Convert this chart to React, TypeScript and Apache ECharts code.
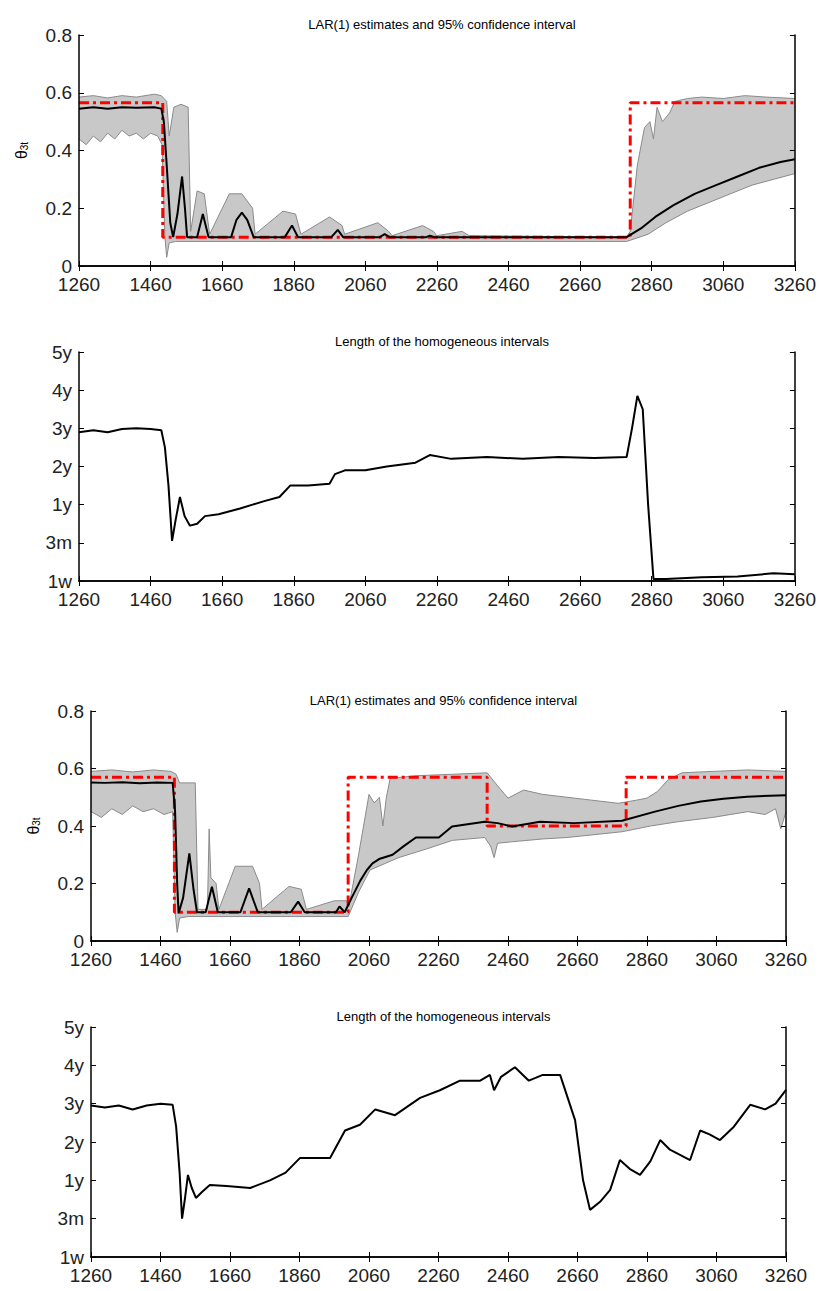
import React, { useEffect, useRef } from "react";
import * as echarts from "echarts";

const durationLabels = ["1w", "3m", "1y", "2y", "3y", "4y", "5y"];

// top pair: single break-free scenario
const estimate1 = [[1260,0.545],[1300,0.55],[1340,0.545],[1380,0.55],[1420,0.548],[1470,0.55],[1490,0.545],[1497,0.5],[1505,0.35],[1515,0.15],[1523,0.1],[1535,0.18],[1548,0.31],[1556,0.2],[1562,0.1],[1590,0.1],[1606,0.18],[1622,0.1],[1685,0.1],[1700,0.16],[1715,0.185],[1730,0.16],[1748,0.1],[1835,0.1],[1855,0.14],[1872,0.1],[1965,0.1],[1983,0.125],[1998,0.1],[2100,0.1],[2114,0.11],[2128,0.1],[2230,0.1],[2240,0.105],[2252,0.1],[2790,0.1],[2830,0.13],[2870,0.17],[2920,0.21],[2980,0.25],[3040,0.28],[3100,0.31],[3160,0.34],[3220,0.36],[3260,0.37]];
const upper1 = [[1260,0.585],[1300,0.59],[1340,0.582],[1380,0.59],[1420,0.585],[1470,0.595],[1490,0.59],[1505,0.57],[1512,0.45],[1525,0.55],[1545,0.56],[1565,0.55],[1572,0.12],[1590,0.26],[1610,0.25],[1625,0.11],[1680,0.25],[1715,0.25],[1745,0.2],[1752,0.11],[1830,0.19],[1865,0.18],[1880,0.11],[1960,0.17],[1995,0.14],[2002,0.11],[2095,0.15],[2125,0.12],[2135,0.105],[2220,0.14],[2250,0.12],[2260,0.105],[2330,0.12],[2350,0.105],[2790,0.1],[2800,0.12],[2820,0.35],[2840,0.48],[2855,0.5],[2865,0.44],[2875,0.55],[2890,0.5],[2910,0.53],[2925,0.57],[2960,0.58],[3000,0.585],[3060,0.58],[3120,0.59],[3180,0.585],[3260,0.58]];
const lower1 = [[1260,0.44],[1280,0.42],[1300,0.45],[1320,0.43],[1340,0.46],[1360,0.44],[1380,0.47],[1400,0.45],[1420,0.46],[1440,0.44],[1460,0.46],[1480,0.45],[1492,0.42],[1500,0.1],[1505,0.03],[1512,0.08],[1530,0.085],[2790,0.085],[2850,0.11],[2900,0.15],[2960,0.19],[3020,0.22],[3080,0.25],[3140,0.28],[3200,0.3],[3260,0.32]];
const truth1 = [[1260,0.565],[1494,0.565],[1494,0.1],[2800,0.1],[2800,0.565],[3260,0.565]];
const length1 = [[1260,3.9],[1300,3.95],[1340,3.9],[1380,3.98],[1420,4.0],[1460,3.98],[1490,3.95],[1500,3.5],[1510,2.5],[1520,1.05],[1530,1.6],[1542,2.2],[1555,1.7],[1570,1.45],[1590,1.5],[1612,1.7],[1650,1.75],[1710,1.9],[1745,2.0],[1780,2.1],[1820,2.2],[1850,2.5],[1900,2.5],[1960,2.55],[1975,2.8],[2003,2.9],[2060,2.9],[2120,3.0],[2200,3.1],[2240,3.3],[2300,3.2],[2400,3.25],[2500,3.2],[2600,3.25],[2700,3.22],[2790,3.25],[2805,4.0],[2820,4.85],[2835,4.5],[2850,2.0],[2865,0.05],[2900,0.05],[3000,0.1],[3100,0.12],[3200,0.2],[3260,0.18]];

// bottom pair: several breaks
const estimate2 = [[1260,0.551],[1300,0.55],[1350,0.552],[1400,0.549],[1450,0.551],[1495,0.55],[1502,0.45],[1508,0.2],[1512,0.096],[1525,0.15],[1543,0.305],[1555,0.18],[1565,0.1],[1590,0.1],[1608,0.189],[1625,0.1],[1690,0.1],[1715,0.183],[1740,0.1],[1835,0.1],[1856,0.137],[1875,0.1],[1965,0.1],[1975,0.12],[1990,0.1],[2010,0.15],[2035,0.21],[2054,0.247],[2070,0.27],[2089,0.285],[2128,0.3],[2160,0.33],[2195,0.36],[2261,0.36],[2299,0.398],[2393,0.415],[2430,0.41],[2472,0.398],[2552,0.415],[2650,0.41],[2788,0.418],[2883,0.45],[2950,0.47],[3015,0.485],[3080,0.495],[3148,0.502],[3260,0.507]];
const upper2 = [[1260,0.59],[1320,0.595],[1380,0.588],[1440,0.595],[1490,0.59],[1505,0.58],[1515,0.55],[1560,0.55],[1568,0.11],[1595,0.11],[1600,0.39],[1605,0.22],[1620,0.2],[1628,0.11],[1675,0.26],[1725,0.26],[1745,0.2],[1752,0.11],[1830,0.19],[1865,0.18],[1880,0.11],[1960,0.14],[1995,0.14],[2002,0.12],[2030,0.3],[2060,0.51],[2075,0.48],[2090,0.5],[2100,0.4],[2110,0.5],[2121,0.566],[2200,0.575],[2300,0.58],[2400,0.585],[2430,0.54],[2460,0.497],[2505,0.525],[2560,0.51],[2630,0.5],[2700,0.49],[2777,0.479],[2830,0.49],[2860,0.497],[2890,0.52],[2920,0.56],[2960,0.585],[3050,0.59],[3150,0.595],[3260,0.59]];
const lower2 = [[1260,0.45],[1290,0.43],[1320,0.46],[1350,0.44],[1380,0.47],[1410,0.45],[1440,0.46],[1470,0.44],[1495,0.45],[1502,0.1],[1508,0.03],[1515,0.08],[1540,0.085],[2000,0.085],[2030,0.17],[2063,0.247],[2145,0.29],[2225,0.32],[2300,0.35],[2393,0.36],[2410,0.33],[2420,0.29],[2430,0.34],[2470,0.345],[2560,0.355],[2630,0.36],[2788,0.38],[2870,0.4],[2950,0.415],[3050,0.43],[3150,0.45],[3200,0.44],[3230,0.46],[3245,0.39],[3260,0.45]];
const truth2 = [[1260,0.57],[1500,0.57],[1500,0.1],[2000,0.1],[2000,0.57],[2400,0.57],[2400,0.4],[2800,0.4],[2800,0.57],[3260,0.57]];
const length2 = [[1260,3.95],[1300,3.9],[1340,3.95],[1380,3.85],[1420,3.95],[1460,4.0],[1495,3.97],[1505,3.4],[1515,2.2],[1522,1.0],[1530,1.5],[1539,2.14],[1550,1.8],[1562,1.54],[1580,1.7],[1602,1.88],[1650,1.85],[1718,1.8],[1775,2.0],[1820,2.2],[1861,2.58],[1948,2.58],[1991,3.3],[2034,3.45],[2078,3.85],[2135,3.7],[2207,4.15],[2264,4.35],[2322,4.6],[2380,4.6],[2408,4.75],[2420,4.35],[2440,4.7],[2480,4.95],[2520,4.6],[2560,4.75],[2610,4.75],[2653,3.57],[2676,2.0],[2696,1.23],[2725,1.44],[2754,1.75],[2782,2.53],[2810,2.3],[2840,2.14],[2870,2.5],[2898,3.05],[2926,2.8],[2984,2.53],[3013,3.3],[3040,3.2],[3070,3.05],[3110,3.4],[3157,3.97],[3200,3.85],[3230,4.0],[3260,4.36]];

const titles = ["LAR(1) estimates and 95% confidence interval", "Length of the homogeneous intervals"];
const grids = [
  { left: 79, top: 35, width: 716, height: 231 },
  { left: 79, top: 352, width: 716, height: 229 },
  { left: 91, top: 711, width: 695, height: 230 },
  { left: 91, top: 1027, width: 695, height: 230 },
];

const font = "Liberation Sans";

const App: React.FC = () => {
  const chartRef = useRef<HTMLDivElement>(null);

  useEffect(() => {
    if (!chartRef.current) return;
    document.body.style.margin = "0";
    const chart = echarts.init(chartRef.current, undefined, { renderer: "svg" });

    const xAxes: any[] = [];
    const yAxes: any[] = [];
    grids.forEach((g, i) => {
      const isTheta = i % 2 === 0;
      const base = {
        gridIndex: i,
        type: "value",
        z: 10,
        axisLine: { show: true, lineStyle: { color: "#000", width: 1.5 } },
        axisTick: { show: true, inside: true, length: 5, lineStyle: { color: "#000" } },
        splitLine: { show: false },
      };
      xAxes.push({
        ...base, position: "bottom", min: 1260, max: 3260, interval: 200,
        axisLabel: { fontFamily: font, fontSize: 19, color: "#222", margin: 9, formatter: (v: number) => String(v) },
      });
      xAxes.push({ ...base, position: "top", min: 1260, max: 3260, interval: 200, axisLabel: { show: false } });
      const yRange = isTheta
        ? { min: 0, max: 0.8, interval: 0.2 }
        : { min: 0, max: 6, interval: 1 };
      yAxes.push({
        ...base, ...yRange, position: "left",
        axisLabel: {
          fontFamily: font, fontSize: 19, color: "#222", margin: 7,
          formatter: isTheta ? (v: number) => (v === 0 ? "0" : v.toFixed(1)) : (v: number) => durationLabels[Math.round(v)],
        },
        name: isTheta ? "{t|θ}{s|3t}" : "",
        nameLocation: "middle",
        nameGap: 50,
        nameRotate: 90,
        nameTextStyle: {
          rich: {
            t: { fontFamily: font, fontSize: 16, color: "#000" },
            s: { fontFamily: font, fontSize: 10, color: "#000", verticalAlign: "bottom", padding: [6, 0, 0, 0] },
          },
        },
      });
      yAxes.push({ ...base, ...yRange, position: "right", axisLabel: { show: false } });
    });

    const series: any[] = [];
    const addTheta = (i: number, upper: number[][], lower: number[][], est: number[][], truth: number[][]) => {
      const ax = { xAxisIndex: 2 * i, yAxisIndex: 2 * i, type: "line", showSymbol: false, symbol: "none" };
      series.push({ ...ax, data: upper, lineStyle: { color: "#8a8a8a", width: 1 }, areaStyle: { color: "#c8c8c8", opacity: 1, origin: "start" }, z: 1 });
      series.push({ ...ax, data: lower, lineStyle: { color: "#8a8a8a", width: 1 }, areaStyle: { color: "#ffffff", opacity: 1, origin: "start" }, z: 2 });
      series.push({ ...ax, data: truth, lineStyle: { color: "#ff0000", width: 3, type: [10, 4, 3, 4] }, z: 3 });
      series.push({ ...ax, data: est, lineStyle: { color: "#000", width: 2 }, z: 4 });
    };
    const addLength = (i: number, data: number[][]) => {
      series.push({ xAxisIndex: 2 * i, yAxisIndex: 2 * i, type: "line", showSymbol: false, symbol: "none", data, lineStyle: { color: "#000", width: 2 } });
    };
    addTheta(0, upper1, lower1, estimate1, truth1);
    addLength(1, length1);
    addTheta(2, upper2, lower2, estimate2, truth2);
    addLength(3, length2);

    chart.setOption({
      animation: false,
      title: grids.map((g, i) => ({
        text: titles[i % 2],
        left: g.left + g.width / 2,
        textAlign: "center",
        top: g.top - 22,
        textStyle: { fontFamily: font, fontSize: 13, fontWeight: "normal", color: "#000" },
      })),
      grid: grids,
      xAxis: xAxes,
      yAxis: yAxes,
      series,
    });

    return () => {
      chart.dispose();
    };
  }, []);

  return <div ref={chartRef} style={{ width: 819, height: 1291 }} />;
};

export default App;
